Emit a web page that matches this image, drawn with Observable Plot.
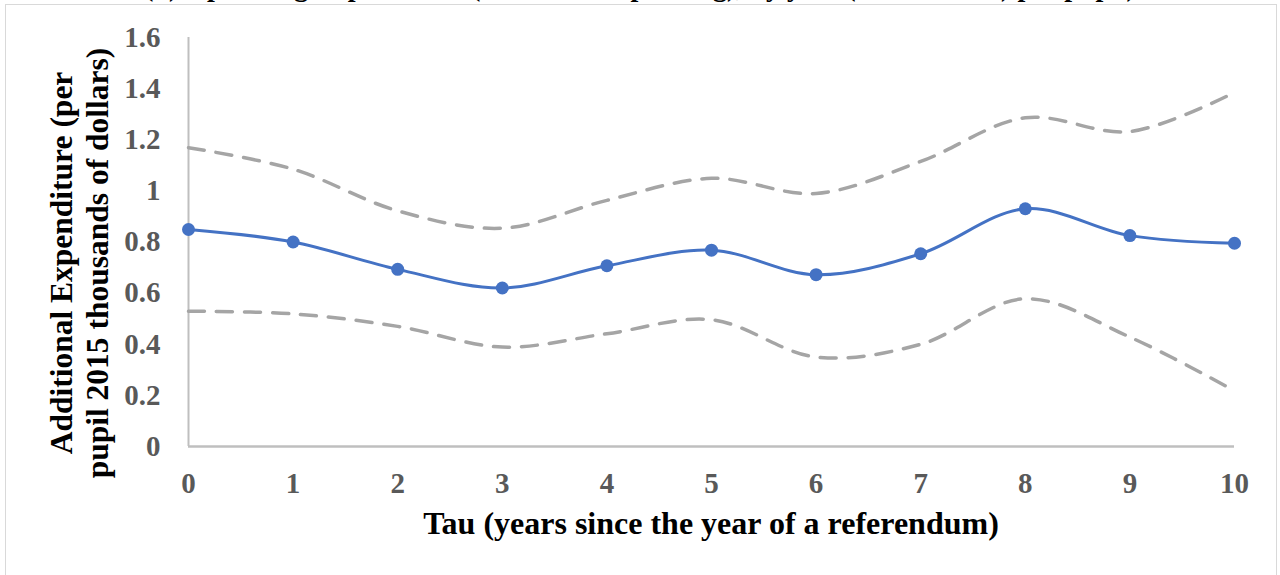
<!DOCTYPE html>
<html>
<head>
<meta charset="utf-8">
<script src="https://cdn.jsdelivr.net/npm/d3@7"></script>
<script src="https://cdn.jsdelivr.net/npm/@observablehq/plot@0.6"></script>
<style>
  html, body { margin: 0; padding: 0; background: #fff; }
  body { width: 1280px; height: 575px; position: relative; overflow: hidden; font-family: "Liberation Serif", "Times New Roman", serif; }
  #frame { position: absolute; left: 5px; top: 4px; width: 1272px; height: 620px; border: 1px solid #d9d9d9; box-sizing: border-box; }
  #toptitle { position: absolute; left: 0; top: 0; width: 1280px; height: 4px; overflow: hidden; }
  #toptitle div { position: absolute; left: 0; width: 1280px; top: -27px; line-height: 28px; text-align: center; font-weight: bold; font-size: 28px; color: #000; white-space: nowrap; }
  #chart { position: absolute; left: 0; top: 0; }
  #xtitle { position: absolute; left: 188px; width: 1046px; top: 505px; text-align: center; font-weight: bold; font-size: 32px; color: #000; white-space: nowrap; }
  #ytitle { position: absolute; left: 80px; top: 263px; width: 0; height: 0; }
  #ytitle div { position: absolute; transform: translate(-50%, -50%) rotate(-90deg); text-align: center; font-weight: bold; font-size: 31.5px; line-height: 36px; color: #000; white-space: nowrap; }
</style>
</head>
<body>
<div id="frame"></div>
<div id="toptitle"><div>(b) Operating Expenditure (Additional Spending), by year (2015 dollars) per pupil)</div></div>
<div id="chart"></div>
<div id="ytitle"><div>Additional Expenditure (per<br>pupil 2015 thousands of dollars)</div></div>
<div id="xtitle">Tau (years since the year of a referendum)</div>
<script>
const tau = [0, 1, 2, 3, 4, 5, 6, 7, 8, 9, 10];
const estimate = [0.849, 0.800, 0.693, 0.620, 0.707, 0.768, 0.672, 0.754, 0.930, 0.825, 0.795];
const upper = [1.169, 1.085, 0.922, 0.854, 0.963, 1.049, 0.990, 1.115, 1.286, 1.232, 1.385];
const lower = [0.529, 0.519, 0.470, 0.389, 0.441, 0.496, 0.350, 0.400, 0.578, 0.428, 0.218];
const yTicks = [0, 0.2, 0.4, 0.6, 0.8, 1, 1.2, 1.4, 1.6];
const xTicks = [0, 1, 2, 3, 4, 5, 6, 7, 8, 9, 10];

const data = tau.map((t, i) => ({tau: t, est: estimate[i], hi: upper[i], lo: lower[i]}));

const chart = Plot.plot({
  width: 1280,
  height: 575,
  marginLeft: 188,
  marginRight: 46,
  marginTop: 37,
  marginBottom: 129,
  style: {fontFamily: "'Liberation Serif', 'Times New Roman', serif", background: "transparent", overflow: "visible"},
  x: {domain: [0, 10]},
  y: {domain: [0, 1.6]},
  marks: [
    Plot.axisY({ticks: yTicks, tickSize: 0, tickPadding: 28, fontSize: 29, fontWeight: "bold", fill: "#595959", label: null, tickFormat: d => String(d)}),
    Plot.axisX({ticks: xTicks, tickSize: 0, tickPadding: 26, fontSize: 29, fontWeight: "bold", fill: "#595959", label: null}),
    Plot.ruleX([0], {y1: 0, y2: 1.6, stroke: "#bfbfbf", strokeWidth: 2}),
    Plot.ruleY([0], {stroke: "#bfbfbf", strokeWidth: 2.5}),
    Plot.line(data, {x: "tau", y: "hi", curve: "catmull-rom", stroke: "#a5a5a5", strokeWidth: 3.5, strokeDasharray: "16,12"}),
    Plot.line(data, {x: "tau", y: "lo", curve: "catmull-rom", stroke: "#a5a5a5", strokeWidth: 3.5, strokeDasharray: "16,12"}),
    Plot.line(data, {x: "tau", y: "est", curve: "catmull-rom", stroke: "#4472c4", strokeWidth: 3}),
    Plot.dot(data, {x: "tau", y: "est", r: 6.5, fill: "#4472c4", stroke: "none"})
  ]
});
document.getElementById("chart").appendChild(chart);
</script>
</body>
</html>
